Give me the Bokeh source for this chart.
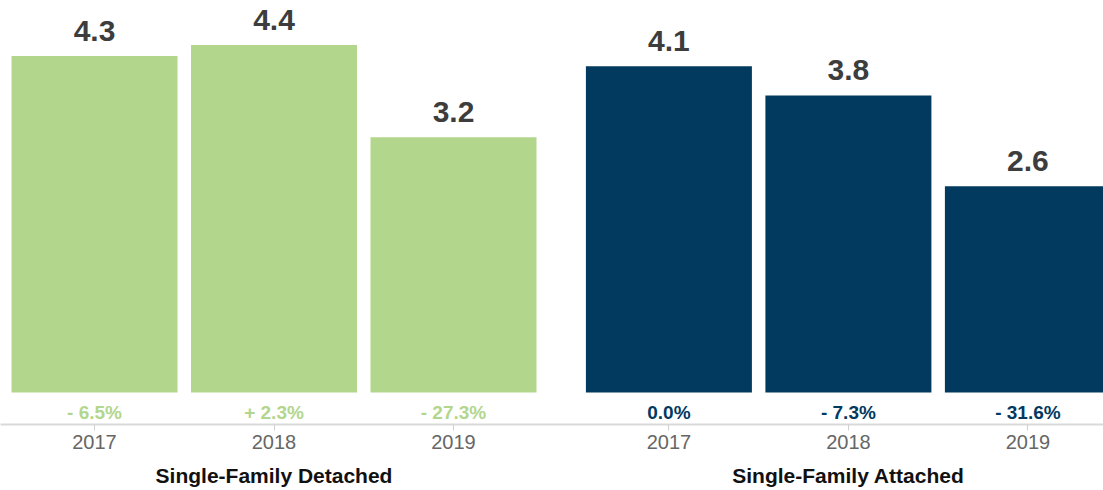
from bokeh.plotting import figure
from bokeh.models import Range1d, FixedTicker, LinearAxis, ColumnDataSource
from bokeh.embed import file_html
from bokeh.resources import INLINE
from bokeh.core.properties import value

# ---------------- data ----------------
groups = ["Single-Family Detached", "Single-Family Attached"]
years = ["2017", "2018", "2019"]
detached_values = [4.26, 4.40, 3.23]
attached_values = [4.13, 3.76, 2.61]
detached_labels = ["4.3", "4.4", "3.2"]
attached_labels = ["4.1", "3.8", "2.6"]
detached_change = ["- 6.5%", "+ 2.3%", "- 27.3%"]
attached_change = ["0.0%", "- 7.3%", "- 31.6%"]
group_colors = ["#b3d68d", "#02395f"]

# ---------------- layout constants ----------------
W, H = 1103, 490
GROUP_STEP = 3.2          # distance (in category units) between group starts
PX_X = 179.5              # px per category unit
PX_Y = 79.0               # px per value unit
BOTTOM = 66               # px below the frame for the two axes
ZERO_ABOVE_FRAME = 32     # px between frame bottom and value zero
FIRST_CENTER_PX = 94      # px from frame left to first bar centre
FONT = "Liberation Sans"

xs, tops, labels, changes, fills = [], [], [], [], []
group_centers = []
for g, (vals, labs, chg) in enumerate([(detached_values, detached_labels, detached_change),
                                       (attached_values, attached_labels, attached_change)]):
    base = g * GROUP_STEP
    group_centers.append(base + (len(years) - 1) / 2)
    for i in range(len(years)):
        xs.append(base + i)
        tops.append(vals[i])
        labels.append(labs[i])
        changes.append(chg[i])
        fills.append(group_colors[g])

src = ColumnDataSource(dict(
    x=xs, top=tops, label=labels, change=changes, color=fills,
    label_y=[t + 25 / PX_Y for t in tops],
    change_y=[-19.5 / PX_Y] * len(xs),
))

frame_h = H - BOTTOM
x0 = -FIRST_CENTER_PX / PX_X
p = figure(width=W, height=H, output_backend="svg", toolbar_location=None,
           x_range=Range1d(x0, x0 + W / PX_X),
           y_range=Range1d(-ZERO_ABOVE_FRAME / PX_Y, (frame_h - ZERO_ABOVE_FRAME) / PX_Y),
           x_axis_location=None, y_axis_location=None,
           min_border_left=0, min_border_right=0, min_border_top=0,
           min_border_bottom=BOTTOM)
p.outline_line_color = None
p.xgrid.visible = False
p.ygrid.visible = False
p.background_fill_color = "white"
p.border_fill_color = "white"

p.vbar(x="x", top="top", bottom=0, width=166 / PX_X, source=src,
       fill_color="color", line_color=None)

p.text(x="x", y="label_y", text="label", source=src,
       text_align="center", text_baseline="alphabetic",
       text_font=value(FONT), text_font_size="30px", text_font_style="bold",
       text_color="#3d3d3d")

p.text(x="x", y="change_y", text="change", source=src,
       text_align="center", text_baseline="middle",
       text_font=value(FONT), text_font_size="19px", text_font_style="bold",
       text_color="color")

# year axis
year_axis = LinearAxis(ticker=FixedTicker(ticks=xs),
                       major_label_overrides={x: years[i % len(years)] for i, x in enumerate(xs)})
year_axis.axis_line_color = "#d9d9d9"
year_axis.axis_line_width = 2
year_axis.major_tick_line_color = "#cfcfcf"
year_axis.major_tick_line_width = 1
year_axis.major_tick_in = 0
year_axis.major_tick_out = 6
year_axis.minor_tick_line_color = None
year_axis.major_label_standoff = 4
year_axis.major_label_text_font = FONT
year_axis.major_label_text_font_size = "20px"
year_axis.major_label_text_color = "#666666"
p.add_layout(year_axis, "below")

# group axis
group_axis = LinearAxis(ticker=FixedTicker(ticks=group_centers),
                        major_label_overrides={c: groups[i] for i, c in enumerate(group_centers)})
group_axis.axis_line_color = None
group_axis.major_tick_line_color = None
group_axis.minor_tick_line_color = None
group_axis.major_tick_in = 0
group_axis.major_tick_out = 0
group_axis.major_label_standoff = 12
group_axis.major_label_text_font = FONT
group_axis.major_label_text_font_size = "21px"
group_axis.major_label_text_font_style = "bold"
group_axis.major_label_text_color = "#111111"
p.add_layout(group_axis, "below")

open("out.html", "w").write(file_html(p, INLINE))
